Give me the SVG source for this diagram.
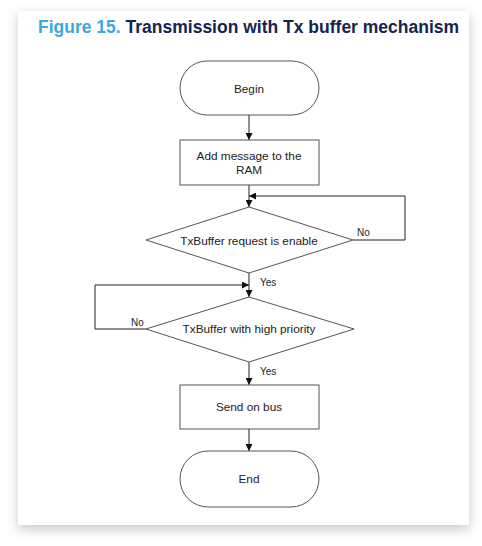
<svg xmlns="http://www.w3.org/2000/svg" width="482" height="546" viewBox="0 0 482 546">
<defs>
<filter id="sh" x="-10%" y="-10%" width="120%" height="120%">
<feDropShadow dx="0" dy="4" stdDeviation="6" flood-color="#000" flood-opacity="0.22"/>
</filter>
<marker id="ah" viewBox="0 0 10 10" refX="10" refY="5" markerWidth="7" markerHeight="7" markerUnits="userSpaceOnUse" orient="auto">
<path d="M0,0 L10,5 L0,10 z" fill="#111"/>
</marker>
<style>
.shape{fill:#fff;stroke:#555;stroke-width:1}
.lbl{font-family:"Liberation Sans",Arial,sans-serif;font-size:11.8px;fill:#222;text-anchor:middle}
.sm{font-family:"Liberation Sans",Arial,sans-serif;font-size:10px;fill:#222}
.ln{fill:none;stroke:#222;stroke-width:1}
.title{font-family:"Liberation Sans",Arial,sans-serif;font-size:17.5px;font-weight:bold}
</style>
</defs>
<rect width="482" height="546" fill="#fff"/>
<rect x="18" y="11" width="451" height="514" fill="#fff" filter="url(#sh)"/>
<text class="title" x="38" y="33"><tspan fill="#3ea6de">Figure 15. </tspan><tspan fill="#15244f">Transmission with Tx buffer mechanism</tspan></text>
<g id="connectors">
<line class="ln" x1="249" y1="115" x2="249" y2="140" marker-end="url(#ah)"/>
<line class="ln" x1="249" y1="185" x2="249" y2="207" marker-end="url(#ah)"/>
<polyline class="ln" points="353,240 405,240 405,196 249,196" marker-end="url(#ah)"/>
<line class="ln" x1="249" y1="273" x2="249" y2="297" marker-end="url(#ah)"/>
<polyline class="ln" points="146,329 95,329 95,285 249,285" marker-end="url(#ah)"/>
<line class="ln" x1="249" y1="362" x2="249" y2="385" marker-end="url(#ah)"/>
<line class="ln" x1="249" y1="429" x2="249" y2="451" marker-end="url(#ah)"/>
<text class="sm" x="357" y="236">No</text>
<text class="sm" x="260" y="286">Yes</text>
<text class="sm" x="131" y="326">No</text>
<text class="sm" x="260" y="375">Yes</text>
</g>
<g id="begin">
<rect class="shape" x="180" y="61" width="139" height="54" rx="27" ry="27"/>
<text class="lbl" x="249" y="93">Begin</text>
</g>
<g id="add">
<rect class="shape" x="180" y="140" width="139" height="45"/>
<text class="lbl" x="249" y="160">Add message to the</text>
<text class="lbl" x="249" y="174">RAM</text>
</g>
<g id="dec1">
<polygon class="shape" points="249,207 353,240 249,273 146,240"/>
<text class="lbl" x="249" y="245">TxBuffer request is enable</text>
</g>
<g id="dec2">
<polygon class="shape" points="249,297 354,329 249,362 146,329"/>
<text class="lbl" x="249" y="333">TxBuffer with high priority</text>
</g>
<g id="send">
<rect class="shape" x="180" y="385" width="139" height="44"/>
<text class="lbl" x="249" y="411">Send on bus</text>
</g>
<g id="end">
<rect class="shape" x="180" y="451" width="139" height="56" rx="28" ry="28"/>
<text class="lbl" x="249" y="483">End</text>
</g>
</svg>
